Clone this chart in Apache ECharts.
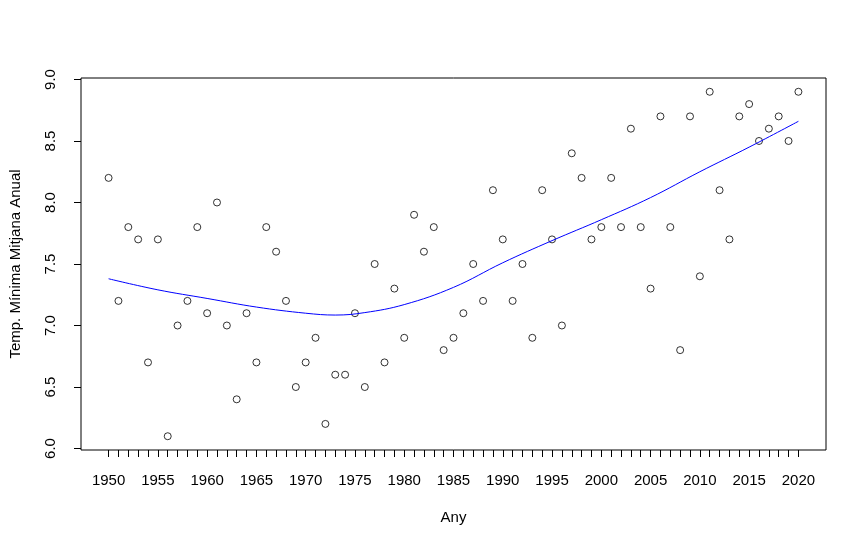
<!DOCTYPE html>
<html>
<head>
<meta charset="utf-8">
<title>Temp. Mínima Mitjana Anual</title>
<script src="https://cdn.jsdelivr.net/npm/echarts@6/dist/echarts.min.js"></script>
<style>
  html, body { margin: 0; padding: 0; background: #fff; }
  #chart { width: 866px; height: 548px; }
</style>
</head>
<body>
<div id="chart"></div>
<script>
// anys i temperatura minima mitjana anual
var years = [];
for (var y = 1950; y <= 2020; y++) years.push(y);
var tempMin = [
  8.2, 7.2, 7.8, 7.7, 6.7, 7.7, 6.1, 7.0, 7.2, 7.8,
  7.1, 8.0, 7.0, 6.4, 7.1, 6.7, 7.8, 7.6, 7.2, 6.5,
  6.7, 6.9, 6.2, 6.6, 6.6, 7.1, 6.5, 7.5, 6.7, 7.3,
  6.9, 7.9, 7.6, 7.8, 6.8, 6.9, 7.1, 7.5, 7.2, 8.1,
  7.7, 7.2, 7.5, 6.9, 8.1, 7.7, 7.0, 8.4, 8.2, 7.7,
  7.8, 8.2, 7.8, 8.6, 7.8, 7.3, 8.7, 7.8, 6.8, 8.7,
  7.4, 8.9, 8.1, 7.7, 8.7, 8.8, 8.5, 8.6, 8.7, 8.5,
  8.9
];
// corba suavitzada (loess) llegida del grafic
var smoothYears = [1950, 1955, 1960, 1965, 1970, 1973, 1976, 1980, 1985, 1990, 1995, 2000, 2005, 2010, 2015, 2020];
var smoothVals  = [7.38, 7.29, 7.22, 7.15, 7.10, 7.085, 7.105, 7.17, 7.31, 7.51, 7.69, 7.86, 8.04, 8.25, 8.45, 8.66];
// marques dels eixos
var xTicks = years;
var xLabels = [1950, 1955, 1960, 1965, 1970, 1975, 1980, 1985, 1990, 1995, 2000, 2005, 2010, 2015, 2020];
var yTicks = [6.0, 6.5, 7.0, 7.5, 8.0, 8.5, 9.0];

var font = 'Liberation Sans, Arial, sans-serif';

var myChart = echarts.init(document.getElementById('chart'));
var option = {
  backgroundColor: '#fff',
  animation: false,
  grid: {
    left: 78, right: 40, top: 78, bottom: 98,
    show: true, borderColor: '#000', borderWidth: 1, backgroundColor: 'transparent'
  },
  xAxis: {
    type: 'value',
    min: 1947.2,
    max: 2022.8,
    name: 'Any',
    nameLocation: 'middle',
    nameGap: 60,
    nameTextStyle: { color: '#000', fontSize: 15, fontFamily: font },
    axisLine: { show: false },
    splitLine: { show: false },
    axisTick: {
      show: true, inside: false, length: 7, customValues: xTicks,
      lineStyle: { color: '#000', width: 1 }
    },
    axisLabel: {
      customValues: xLabels, margin: 23,
      color: '#000', fontSize: 15, fontFamily: font,
      formatter: function (v) { return String(v); }
    }
  },
  yAxis: {
    type: 'value',
    min: 5.988,
    max: 9.012,
    name: 'Temp. Mínima Mitjana Anual',
    nameLocation: 'middle',
    nameGap: 58,
    nameRotate: 90,
    nameTextStyle: { color: '#000', fontSize: 15, fontFamily: font },
    axisLine: { show: false },
    splitLine: { show: false },
    axisTick: {
      show: true, inside: false, length: 7, customValues: yTicks,
      lineStyle: { color: '#000', width: 1 }
    },
    axisLabel: {
      customValues: yTicks, margin: 23, rotate: 90,
      color: '#000', fontSize: 15, fontFamily: font,
      formatter: function (v) { return v.toFixed(1); }
    }
  },
  series: [
    {
      type: 'scatter',
      data: years.map(function (yr, i) { return [yr, tempMin[i]]; }),
      symbol: 'circle',
      symbolSize: 7,
      itemStyle: { color: 'rgba(0,0,0,0)', borderColor: '#000', borderWidth: 1 },
      silent: true
    },
    {
      type: 'line',
      data: smoothYears.map(function (yr, i) { return [yr, smoothVals[i]]; }),
      smooth: 0.4,
      showSymbol: false,
      lineStyle: { color: '#0000ff', width: 1 },
      silent: true,
      z: 3
    }
  ]
};
myChart.setOption(option);
</script>
</body>
</html>
